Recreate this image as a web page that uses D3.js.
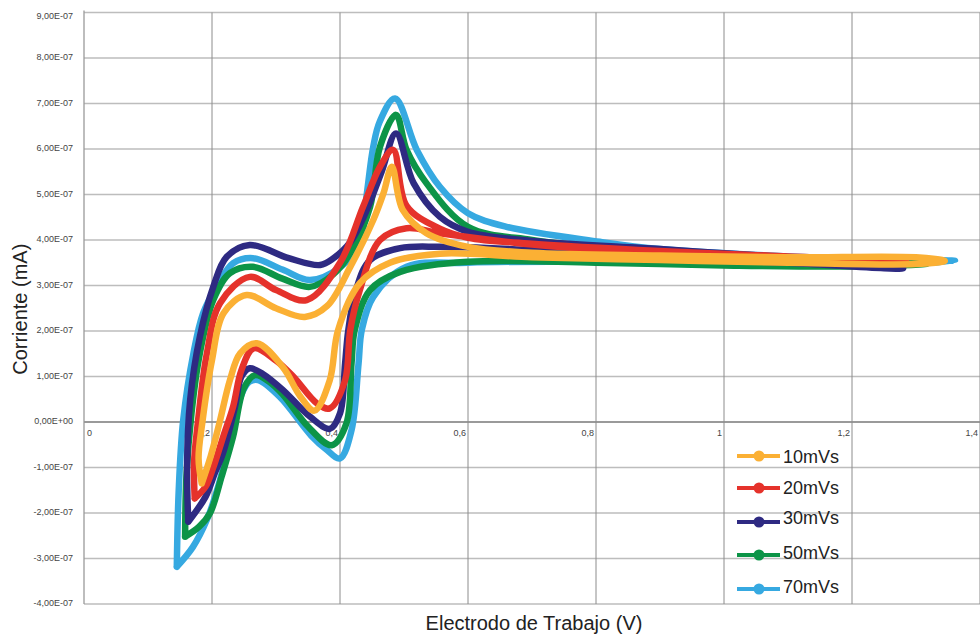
<!DOCTYPE html>
<html>
<head>
<meta charset="utf-8">
<script src="https://cdn.jsdelivr.net/npm/d3@7"></script>
<style>
  html, body { margin: 0; padding: 0; background: #fff; }
  svg { display: block; font-family: "Liberation Sans", Arial, sans-serif; }
</style>
</head>
<body>
<svg id="chart" width="980" height="637"></svg>
<script>
// ---- data (current values in units of 1E-07) ----
const xTicks = [0, 0.2, 0.4, 0.6, 0.8, 1, 1.2, 1.4];
const xTickLabels = ["0", "0,2", "0,4", "0,6", "0,8", "1", "1,2", "1,4"];
const yTicks = [-4, -3, -2, -1, 0, 1, 2, 3, 4, 5, 6, 7, 8, 9];
const yTickLabels = ["-4,00E-07", "-3,00E-07", "-2,00E-07", "-1,00E-07", "0,00E+00",
  "1,00E-07", "2,00E-07", "3,00E-07", "4,00E-07", "5,00E-07", "6,00E-07", "7,00E-07", "8,00E-07", "9,00E-07"];

const seriesNames = ["10mVs", "20mVs", "30mVs", "50mVs", "70mVs"];
const seriesColors = ["#FBB034", "#E5322B", "#2E2A82", "#0C9447", "#36A9E1"];

// 10 mV/s
const v10 = [0.184, 0.198, 0.212, 0.228, 0.244, 0.27, 0.311, 0.338, 0.36, 0.384, 0.397, 0.431, 0.478, 0.556, 0.7, 0.9, 1.1, 1.3, 1.345,
  1.3, 1.1, 0.9, 0.7, 0.6, 0.535, 0.498, 0.481, 0.468, 0.452, 0.416, 0.38, 0.345, 0.3, 0.254, 0.218, 0.2, 0.185, 0.179, 0.184];
const i10 = [-1.35, -0.75, 0.0, 0.92, 1.51, 1.73, 1.2, 0.56, 0.25, 0.92, 2.02, 3.05, 3.5, 3.7, 3.62, 3.56, 3.5, 3.47, 3.54,
  3.62, 3.62, 3.66, 3.72, 3.85, 4.15, 4.66, 5.61, 5.03, 4.44, 3.41, 2.55, 2.31, 2.5, 2.79, 2.39, 1.36, 0.0, -0.8, -1.35];

// 20 mV/s
const v20 = [0.173, 0.19, 0.202, 0.218, 0.233, 0.246, 0.265, 0.3, 0.327, 0.364, 0.384, 0.408, 0.416, 0.431, 0.4625, 0.504, 0.556, 0.7, 0.9, 1.1, 1.25, 1.286,
  1.25, 1.1, 0.9, 0.7, 0.6, 0.556, 0.504, 0.483, 0.4625, 0.436, 0.4, 0.348, 0.3, 0.259, 0.2125, 0.192, 0.178, 0.172, 0.173];
const i20 = [-1.68, -1.42, -1.0, -0.3, 0.34, 1.14, 1.62, 1.35, 1.0, 0.41, 0.3, 0.92, 2.02, 2.9, 4.0, 4.26, 4.15, 3.9, 3.7, 3.58, 3.48, 3.5,
  3.56, 3.64, 3.76, 3.92, 4.05, 4.25, 4.75, 5.98, 5.61, 4.73, 3.5, 2.68, 2.9, 3.19, 2.61, 1.51, 0.0, -0.9, -1.68];

// 30 mV/s
const v30 = [0.163, 0.19, 0.205, 0.217, 0.236, 0.246, 0.259, 0.28, 0.311, 0.353, 0.384, 0.4, 0.408, 0.413, 0.425, 0.447, 0.494, 0.556, 0.7, 0.9, 1.1, 1.25, 1.28,
  1.25, 1.1, 0.9, 0.7, 0.6, 0.556, 0.515, 0.4875, 0.465, 0.44, 0.416, 0.39, 0.369, 0.32, 0.259, 0.223, 0.202, 0.181, 0.166, 0.161, 0.163];
const i30 = [-2.19, -1.64, -1.1, -0.69, 0.34, 1.0, 1.18, 1.05, 0.7, 0.12, -0.15, 0.19, 1.29, 2.02, 2.9, 3.56, 3.82, 3.85, 3.78, 3.62, 3.5, 3.38, 3.38,
  3.5, 3.62, 3.8, 3.98, 4.18, 4.51, 5.25, 6.34, 5.5, 4.6, 3.95, 3.6, 3.45, 3.6, 3.89, 3.63, 2.97, 1.87, 0.5, -1.0, -2.19];

// 50 mV/s
const v50 = [0.158, 0.18, 0.197, 0.215, 0.233, 0.25, 0.267, 0.29, 0.311, 0.35, 0.387, 0.41, 0.418, 0.423, 0.447, 0.494, 0.6, 0.8, 1.0, 1.2, 1.317,
  1.25, 1.1, 0.9, 0.8, 0.7, 0.6, 0.535, 0.504, 0.4875, 0.4625, 0.447, 0.416, 0.39, 0.353, 0.31, 0.264, 0.228, 0.202, 0.181, 0.168, 0.16, 0.158];
const i50 = [-2.52, -2.3, -2.0, -1.2, -0.32, 0.75, 1.03, 0.88, 0.6, -0.1, -0.51, -0.03, 1.29, 2.02, 2.9, 3.3, 3.52, 3.5, 3.44, 3.42, 3.48,
  3.55, 3.62, 3.75, 3.85, 4.0, 4.29, 5.25, 5.98, 6.75, 6.05, 4.73, 3.71, 3.25, 2.97, 3.15, 3.41, 3.27, 2.68, 1.51, 0.2, -1.2, -2.52];

// 70 mV/s
const v70 = [0.145, 0.17, 0.192, 0.21, 0.223, 0.235, 0.246, 0.258, 0.272, 0.306, 0.355, 0.38, 0.4, 0.418, 0.429, 0.434, 0.452, 0.504, 0.6, 0.8, 1.0, 1.2, 1.361,
  1.25, 1.1, 0.9, 0.806, 0.66, 0.6, 0.556, 0.52, 0.486, 0.462, 0.452, 0.442, 0.431, 0.4, 0.353, 0.31, 0.264, 0.233, 0.207, 0.186, 0.171, 0.155, 0.148, 0.145];
const i70 = [-3.18, -2.75, -2.15, -1.4, -0.69, 0.0, 0.6, 0.88, 0.92, 0.55, -0.3, -0.62, -0.8, -0.18, 1.29, 2.02, 2.75, 3.41, 3.5, 3.52, 3.46, 3.44, 3.54,
  3.58, 3.64, 3.8, 3.96, 4.29, 4.59, 5.17, 5.98, 7.11, 6.6, 6.05, 5.03, 3.93, 3.4, 3.12, 3.35, 3.6, 3.49, 2.97, 2.39, 1.51, 0.04, -1.5, -3.18];

const seriesV = [v10, v20, v30, v50, v70];
const seriesI = [i10, i20, i30, i50, i70];

// ---- drawing ----
const svg = d3.select("#chart");
const W = 980, H = 637;
const plot = { left: 84, right: 980, top: 12.5, bottom: 604 };

const x = d3.scaleLinear().domain([0, 1.4]).range([plot.left, plot.right]);
const y = d3.scaleLinear().domain([-4, 9]).range([plot.bottom, plot.top]);

svg.append("rect").attr("width", W).attr("height", H).attr("fill", "#fff");

// horizontal gridlines
svg.append("g").selectAll("line").data(yTicks).join("line")
  .attr("x1", plot.left).attr("x2", plot.right)
  .attr("y1", d => y(d)).attr("y2", d => y(d))
  .attr("stroke", d => d === 0 ? "#9a9a9a" : "#bdbdbd")
  .attr("stroke-width", d => d === 0 ? 2 : 1.3);

// vertical gridlines
svg.append("g").selectAll("line").data(xTicks.filter(d => d > 0)).join("line")
  .attr("x1", d => x(d)).attr("x2", d => x(d))
  .attr("y1", plot.top).attr("y2", plot.bottom)
  .attr("stroke", "#8c8c8c")
  .attr("stroke-width", 1);

// left axis line
svg.append("line")
  .attr("x1", plot.left).attr("x2", plot.left)
  .attr("y1", plot.top - 2).attr("y2", plot.bottom)
  .attr("stroke", "#9a9a9a").attr("stroke-width", 1.3);

// y tick labels
svg.append("g").selectAll("text").data(yTicks).join("text")
  .attr("x", 73)
  .attr("y", d => y(d) + (d === 9 ? 6 : 2))
  .attr("text-anchor", "end")
  .attr("font-size", 9)
  .attr("fill", "#444")
  .text((d, i) => yTickLabels[i]);

// x tick labels
svg.append("g").selectAll("text").data(xTicks).join("text")
  .attr("x", d => d === 0 ? x(d) + 3 : x(d) - 2)
  .attr("y", y(0) + 14)
  .attr("text-anchor", d => d === 0 ? "start" : "end")
  .attr("font-size", 9)
  .attr("fill", "#444")
  .text((d, i) => xTickLabels[i]);

// axis titles
svg.append("text")
  .attr("transform", `translate(27,${(plot.top + plot.bottom) / 2 + 1}) rotate(-90)`)
  .attr("text-anchor", "middle")
  .attr("font-size", 20)
  .attr("fill", "#222")
  .text("Corriente (mA)");

svg.append("text")
  .attr("x", 534).attr("y", 630)
  .attr("text-anchor", "middle")
  .attr("font-size", 20)
  .attr("fill", "#222")
  .text("Electrodo de Trabajo (V)");

// curves
const line = d3.line()
  .x(d => x(d[0]))
  .y(d => y(d[1]))
  .curve(d3.curveCatmullRom.alpha(0.5));

const order = [4, 3, 2, 1, 0];
svg.append("g").selectAll("path").data(order).join("path")
  .attr("d", k => line(seriesV[k].map((v, j) => [v, seriesI[k][j]])))
  .attr("fill", "none")
  .attr("stroke", k => seriesColors[k])
  .attr("stroke-width", 6.5)
  .attr("stroke-linejoin", "round")
  .attr("stroke-linecap", "round");

// legend
const legendY = [456, 488, 522, 555, 589];
const lg = svg.append("g").selectAll("g").data(seriesNames).join("g")
  .attr("transform", (d, i) => `translate(0,${legendY[i]})`);
lg.append("line")
  .attr("x1", 737).attr("x2", 780).attr("y1", 0).attr("y2", 0)
  .attr("stroke", (d, i) => seriesColors[i]).attr("stroke-width", 4);
lg.append("circle")
  .attr("cx", 759).attr("cy", 0).attr("r", 5.5)
  .attr("fill", (d, i) => seriesColors[i]);
lg.append("text")
  .attr("x", 783).attr("y", (d, i) => [7, 6, 2, 4, 4][i])
  .attr("font-size", 18)
  .attr("fill", "#222")
  .text(d => d);
</script>
</body>
</html>
